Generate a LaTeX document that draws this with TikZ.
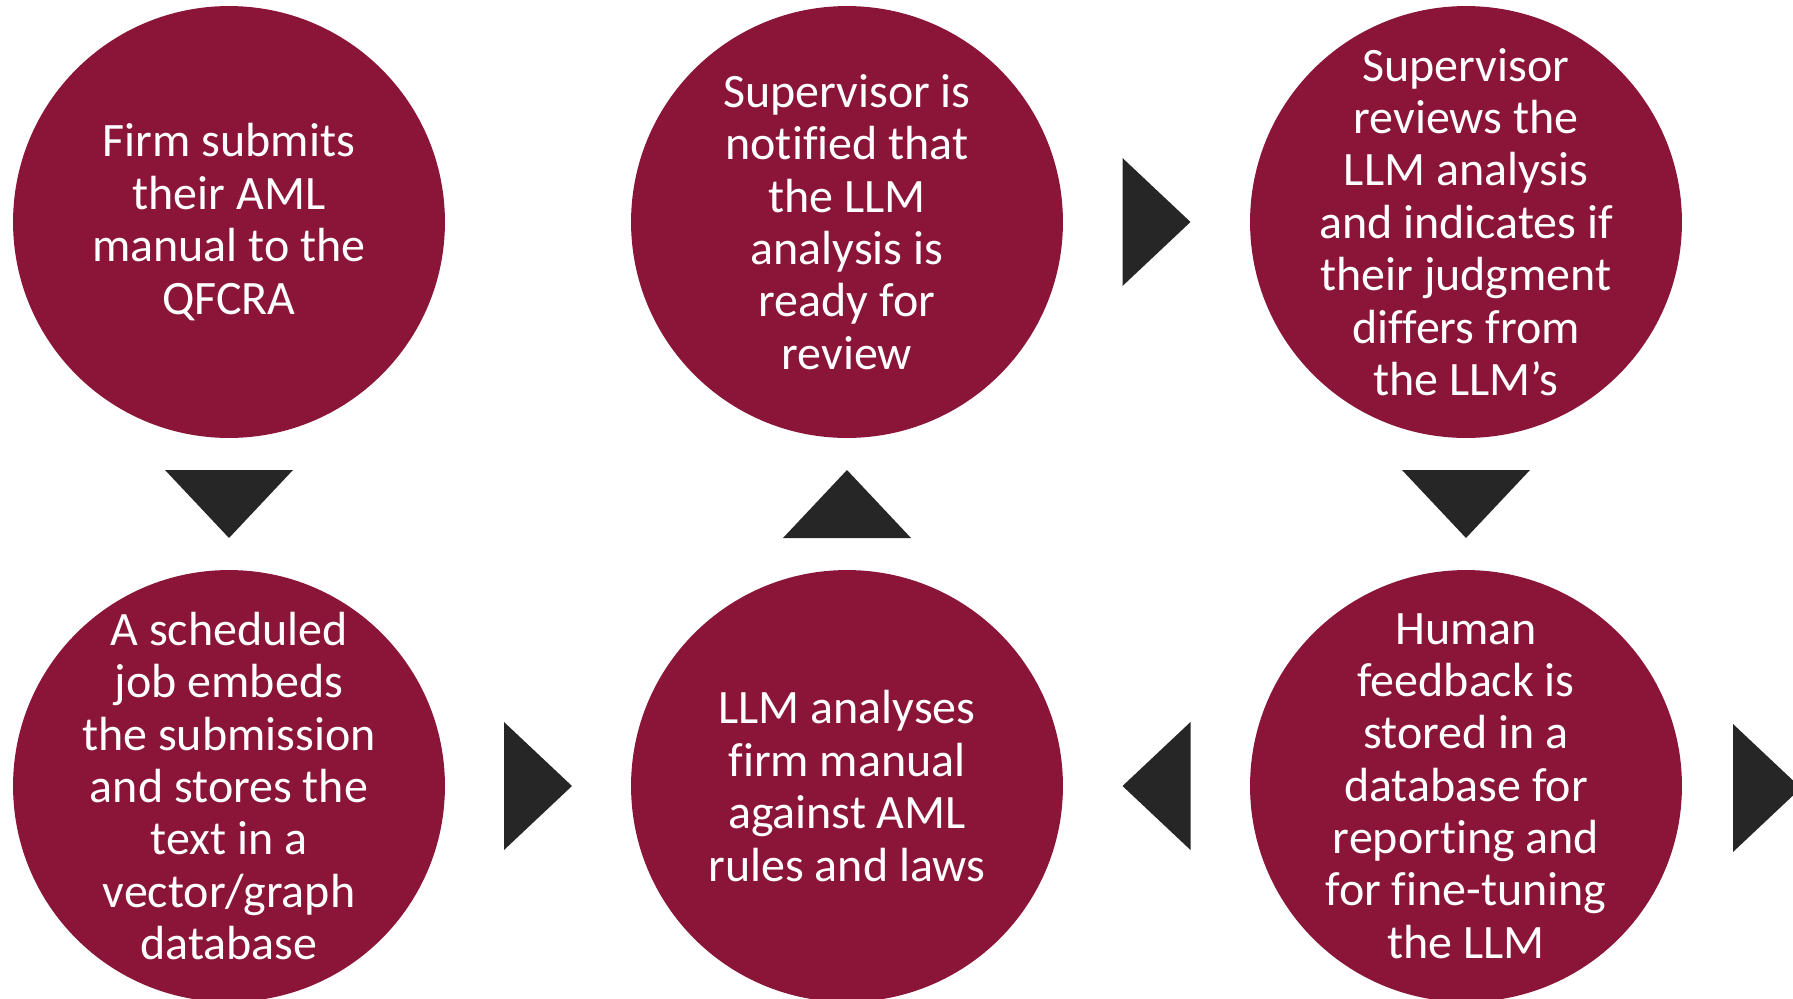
\documentclass[tikz,border=0pt]{standalone}
\usepackage{fontspec}
\setmainfont[Ligatures=NoCommon]{Carlito}
\usetikzlibrary{calc}
\definecolor{stepred}{HTML}{8B1538}
\definecolor{arrowgrey}{HTML}{262626}

\begin{document}
\begin{tikzpicture}[x=0.02cm,y=-0.02cm]
        %
        % `stage' is used for the six round steps.
        % `flowtri' is the dark triangle that points to the next step.
        \tikzstyle{stage} = [circle,fill=stepred,text=white,minimum size=8.64cm,inner sep=-2cm,align=center,font={\fontsize{27.3}{29.8}\selectfont}]
        \tikzset{flowtri/.pic={\fill[arrowgrey] (-34,-64) -- (34,0) -- (-34,64) -- cycle;}}
        %
        % Page
        \useasboundingbox (0,0) rectangle (1793,998);
        \clip (0,0) rectangle (1793,998);
        %
        % Top row
        \node[stage] (submit) at (229,222) {Firm submits\\their AML\\manual to the\\QFCRA};
        \node[stage] (notify) at (847,222) {Supervisor is\\notified that\\the LLM\\analysis is\\ready for\\review};
        \node[stage] (review) at (1466,222) {Supervisor\\reviews the\\LLM analysis\\and indicates if\\their judgment\\differs from\\the LLM’s};
        %
        % Bottom row
        \node[stage] (embed) at (229,786) {A scheduled\\job embeds\\the submission\\and stores the\\text in a\\vector/graph\\database};
        \node[stage] (analyse) at (847,786) {LLM analyses\\firm manual\\against AML\\rules and laws};
        \node[stage] (feedback) at (1466,786) {Human\\feedback is\\stored in a\\database for\\reporting and\\for fine-tuning\\the LLM};
        \coordinate (next) at (2068,790);
        %
        % Triangles
        \pic[rotate=-90] at ($(submit)!0.5!(embed)$) {flowtri};
        \pic at ($(embed)!0.5!(analyse)$) {flowtri};
        \pic[rotate=90] at ($(analyse)!0.5!(notify)$) {flowtri};
        \pic at ($(notify)!0.5!(review)$) {flowtri};
        \pic[rotate=-90] at ($(review)!0.5!(feedback)$) {flowtri};
        \pic[rotate=180] at ($(feedback)!0.5!(analyse)$) {flowtri};
        \pic at ($(feedback)!0.5!(next)$) {flowtri};
        %
\end{tikzpicture}
\end{document}
